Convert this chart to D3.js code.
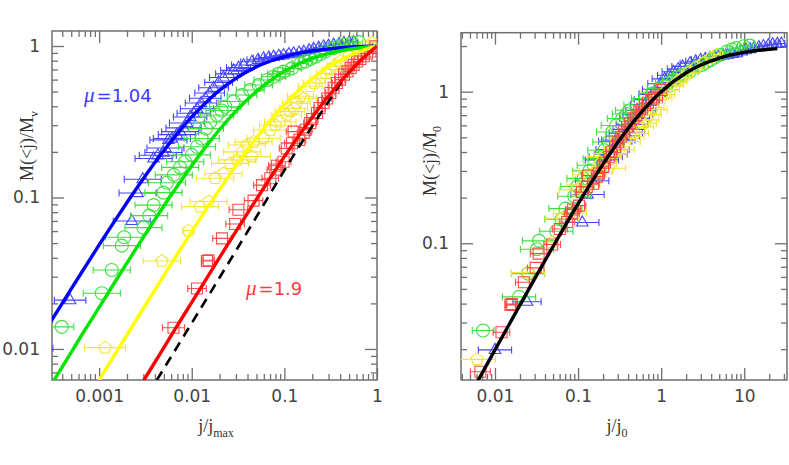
<!DOCTYPE html>
<html>
<head>
<meta charset="utf-8">
<script src="https://cdn.jsdelivr.net/npm/d3@7"></script>
<style>
  body { margin: 0; background: #fff; }
  text { font-family: "DejaVu Sans", sans-serif; }
</style>
</head>
<body>
<script>
const w = 789;
const h = 465;

// measured points, left panel units (j/jmax , M(<j)/Mv), err = half width of x bar in dex
const blueX = [0.0002, 0.000486, 0.00225, 0.0026, 0.00296, 0.00387, 0.0043, 0.00495, 0.0052, 0.0056, 0.0061, 0.0069, 0.0075, 0.00815, 0.0089, 0.0096, 0.0105, 0.0114, 0.0126, 0.014, 0.0156, 0.0172, 0.0195, 0.022, 0.025, 0.0283, 0.032, 0.0363, 0.0446, 0.052, 0.0596, 0.068, 0.0766, 0.087, 0.098, 0.112, 0.126, 0.144, 0.162, 0.185, 0.207, 0.235, 0.265, 0.30, 0.34, 0.39, 0.44, 0.50, 0.56];
const blueY = [0.0101, 0.021, 0.070, 0.107, 0.132, 0.181, 0.19, 0.198, 0.212, 0.24, 0.245, 0.26, 0.272, 0.288, 0.31, 0.34, 0.36, 0.385, 0.42, 0.452, 0.49, 0.53, 0.575, 0.62, 0.655, 0.69, 0.72, 0.749, 0.787, 0.81, 0.829, 0.84, 0.85, 0.862, 0.872, 0.885, 0.895, 0.905, 0.917, 0.94, 0.96, 0.975, 0.995, 1.005, 1.02, 1.035, 1.05, 1.055, 1.06];
const blueErr = [0.2, 0.17, 0.2, 0.2, 0.2, 0.2, 0.2, 0.2, 0.2, 0.2, 0.2, 0.2, 0.2, 0.19, 0.19, 0.18, 0.18, 0.18, 0.17, 0.17, 0.16, 0.16, 0.15, 0.15, 0.14, 0.14, 0.13, 0.13, 0.12, 0.12, 0.11, 0.11, 0.1, 0.1, 0.09, 0.09, 0.08, 0.08, 0.07, 0.07, 0.06, 0.06, 0.05, 0.05, 0.05, 0.04, 0.04, 0.04, 0.04];

const greenX = [0.000395, 0.00107, 0.00137, 0.00176, 0.00186, 0.00301, 0.00347, 0.00387, 0.00495, 0.0054, 0.0064, 0.0075, 0.0085, 0.01, 0.0114, 0.0128, 0.0142, 0.0158, 0.0187, 0.021, 0.023, 0.0283, 0.0349, 0.0428, 0.0528, 0.065, 0.0766, 0.087, 0.098, 0.121, 0.149, 0.169, 0.19, 0.216, 0.245, 0.277, 0.34, 0.39, 0.44, 0.54, 0.64];
const greenY = [0.014, 0.0233, 0.0332, 0.0481, 0.0546, 0.0632, 0.0759, 0.0891, 0.1076, 0.125, 0.141, 0.158, 0.172, 0.191, 0.216, 0.245, 0.285, 0.315, 0.35, 0.375, 0.397, 0.43, 0.475, 0.512, 0.553, 0.596, 0.627, 0.655, 0.677, 0.712, 0.768, 0.79, 0.82, 0.85, 0.885, 0.92, 0.97, 1.0, 1.02, 1.05, 1.06];
const greenErr = [0.13, 0.2, 0.2, 0.2, 0.2, 0.2, 0.2, 0.2, 0.2, 0.2, 0.2, 0.2, 0.2, 0.2, 0.2, 0.19, 0.19, 0.18, 0.18, 0.17, 0.17, 0.16, 0.16, 0.15, 0.15, 0.14, 0.13, 0.12, 0.11, 0.1, 0.09, 0.08, 0.08, 0.07, 0.06, 0.06, 0.05, 0.05, 0.04, 0.04, 0.04];

const yellowX = [0.00116, 0.00476, 0.00923, 0.0123, 0.0152, 0.0179, 0.022, 0.026, 0.031, 0.035, 0.0394, 0.0446, 0.0465, 0.0596, 0.0705, 0.08, 0.0903, 0.106, 0.115, 0.126, 0.135, 0.149, 0.162, 0.19, 0.21, 0.245, 0.28, 0.314, 0.35, 0.4, 0.495, 0.61, 0.75, 0.89];
const yellowY = [0.0102, 0.0381, 0.0604, 0.087, 0.094, 0.134, 0.144, 0.168, 0.177, 0.2, 0.222, 0.186, 0.233, 0.246, 0.279, 0.3, 0.316, 0.35, 0.37, 0.388, 0.42, 0.466, 0.452, 0.542, 0.57, 0.615, 0.66, 0.70, 0.74, 0.79, 0.855, 0.92, 0.995, 1.05];
const yellowErr = [0.22, 0.2, 0.06, 0.2, 0.2, 0.2, 0.2, 0.2, 0.2, 0.2, 0.2, 0.2, 0.2, 0.18, 0.18, 0.17, 0.17, 0.16, 0.16, 0.15, 0.15, 0.14, 0.14, 0.13, 0.12, 0.11, 0.1, 0.09, 0.08, 0.07, 0.06, 0.05, 0.05, 0.04];

const redX = [0.00635, 0.0114, 0.0146, 0.0152, 0.0212, 0.0294, 0.0319, 0.0465, 0.0574, 0.0705, 0.08, 0.083, 0.098, 0.106, 0.121, 0.126, 0.145, 0.162, 0.17, 0.19, 0.2, 0.225, 0.24, 0.265, 0.29, 0.314, 0.34, 0.37, 0.4, 0.44, 0.48, 0.52, 0.56, 0.61, 0.66, 0.72, 0.78, 0.85, 0.96];
const redY = [0.0138, 0.0251, 0.0381, 0.0385, 0.0537, 0.0668, 0.0829, 0.0953, 0.1206, 0.134, 0.153, 0.162, 0.172, 0.211, 0.228, 0.272, 0.24, 0.267, 0.28, 0.31, 0.33, 0.361, 0.39, 0.42, 0.45, 0.49, 0.53, 0.57, 0.6, 0.647, 0.68, 0.716, 0.75, 0.79, 0.82, 0.855, 0.89, 0.92, 0.995];
const redErr = [0.12, 0.1, 0.06, 0.06, 0.1, 0.1, 0.1, 0.1, 0.09, 0.09, 0.09, 0.09, 0.08, 0.08, 0.08, 0.08, 0.07, 0.07, 0.07, 0.07, 0.06, 0.06, 0.06, 0.06, 0.05, 0.05, 0.05, 0.05, 0.05, 0.04, 0.04, 0.04, 0.04, 0.04, 0.03, 0.03, 0.03, 0.03, 0.03];

// per-halo rescaling used in the right panel: j0 = jmax / jScale, M0 = Mv / mScale
const jScale = [50, 18.2, 5.26, 1.05];
const mScale = [1.96, 1.9, 1.68, 1.03];

// fit curves
const fitX = [0.0003, 0.0005, 0.0007, 0.001, 0.0015, 0.002, 0.003, 0.005, 0.007, 0.01, 0.015, 0.02, 0.03, 0.05, 0.07, 0.1, 0.15, 0.2, 0.3, 0.5, 0.7, 1];
const blueFit = [0.0151, 0.0249, 0.0345, 0.0486, 0.0712, 0.0927, 0.133, 0.204, 0.264, 0.34, 0.437, 0.51, 0.612, 0.729, 0.793, 0.85, 0.9, 0.927, 0.956, 0.981, 0.992, 1];
const greenFit = [0.00572, 0.0095, 0.0133, 0.0188, 0.028, 0.037, 0.0546, 0.0879, 0.119, 0.162, 0.226, 0.281, 0.372, 0.502, 0.591, 0.681, 0.772, 0.828, 0.892, 0.951, 0.978, 1];
const yellowFit = [0.00188, 0.00312, 0.00437, 0.00623, 0.00932, 0.0124, 0.0185, 0.0305, 0.0423, 0.0595, 0.0871, 0.113, 0.162, 0.248, 0.32, 0.41, 0.525, 0.61, 0.729, 0.862, 0.936, 1];
const redFit = [0.000616, 0.00103, 0.00144, 0.00205, 0.00308, 0.0041, 0.00614, 0.0102, 0.0143, 0.0203, 0.0303, 0.0402, 0.0597, 0.0975, 0.134, 0.186, 0.266, 0.339, 0.468, 0.672, 0.827, 1];
const dashX = [0.0042, 0.00664, 0.03, 0.1688, 0.3, 0.476, 0.63];
const dashY = [0.00624, 0.00985, 0.0445, 0.252, 0.43, 0.647, 0.77];

// universal curve, right panel (j/j0 , M(<j)/M0)
const uniX = [0.005, 0.01, 0.02, 0.05, 0.1, 0.2, 0.3, 0.5, 1, 2, 3, 5, 10, 25];
const uniY = [0.00995, 0.0198, 0.0392, 0.0952, 0.182, 0.333, 0.462, 0.667, 1, 1.333, 1.5, 1.667, 1.818, 1.923];

// ticks
const leftXMajor = [0.001, 0.01, 0.1, 1];
const leftYMajor = [0.01, 0.1, 1];
const rightXMajor = [0.01, 0.1, 1, 10];
const rightYMajor = [0.1, 1];

const series = [
  {x: blueX, y: blueY, err: blueErr, fit: blueFit, shape: "tri", pt: "#4646ff", line: "#0000ff"},
  {x: greenX, y: greenY, err: greenErr, fit: greenFit, shape: "circ", pt: "#3ee03e", line: "#00e400"},
  {x: yellowX, y: yellowY, err: yellowErr, fit: yellowFit, shape: "pent", pt: "#f2e636", line: "#ffff00"},
  {x: redX, y: redY, err: redErr, fit: redFit, shape: "sq", pt: "#ff4a4a", line: "#ff0000"}
];

function shapePath(kind) {
  if (kind == "circ") return d3.symbol(d3.symbolCircle, Math.PI * 6.5 * 6.5)();
  if (kind == "sq") return "M-5.5,-5.5H5.5V5.5H-5.5Z";
  if (kind == "tri") return "M0,-6.5L5.8,3.6H-5.8Z";
  var p = [];
  for (var k = 0; k < 5; k++) {
    var a = -Math.PI / 2 + k * 2 * Math.PI / 5;
    p.push([6.5 * Math.cos(a), 6.5 * Math.sin(a)]);
  }
  return "M" + p.join("L") + "Z";
}

function minors(dom) {
  var out = [];
  for (var e = Math.floor(Math.log10(dom[0])); e <= Math.ceil(Math.log10(dom[1])); e++) {
    for (var k = 2; k <= 9; k++) {
      var v = k * Math.pow(10, e);
      if (v > dom[0] && v < dom[1]) out.push(v);
    }
  }
  return out;
}

const svg = d3.select("body").append("svg")
  .attr("width", w)
  .attr("height", h);

svg.append("rect").attr("width", w).attr("height", h).attr("fill", "#fff");

function panel(id, xDom, xRange, yDom, yRange, xMajor, yMajor) {
  const x = d3.scaleLog().domain(xDom).range(xRange);
  const y = d3.scaleLog().domain(yDom).range(yRange);
  const g = svg.append("g");
  const pw = xRange[1] - xRange[0], ph = yRange[0] - yRange[1];

  svg.append("clipPath").attr("id", id)
    .append("rect").attr("x", xRange[0]).attr("y", yRange[1]).attr("width", pw).attr("height", ph);

  const axes = g.append("g").attr("class", "axes");
  const fmt = d => String(d);
  axes.append("g").attr("transform", "translate(0," + yRange[0] + ")")
    .call(d3.axisBottom(x).tickValues(xMajor).tickSize(-12).tickPadding(10).tickFormat(fmt));
  axes.append("g").attr("transform", "translate(0," + yRange[0] + ")")
    .call(d3.axisBottom(x).tickValues(minors(xDom)).tickSize(-6).tickFormat(""));
  axes.append("g").attr("transform", "translate(0," + yRange[1] + ")")
    .call(d3.axisTop(x).tickValues(xMajor).tickSize(-12).tickFormat(""));
  axes.append("g").attr("transform", "translate(0," + yRange[1] + ")")
    .call(d3.axisTop(x).tickValues(minors(xDom)).tickSize(-6).tickFormat(""));
  axes.append("g").attr("transform", "translate(" + xRange[0] + ",0)")
    .call(d3.axisLeft(y).tickValues(yMajor).tickSize(-12).tickPadding(12).tickFormat(fmt));
  axes.append("g").attr("transform", "translate(" + xRange[0] + ",0)")
    .call(d3.axisLeft(y).tickValues(minors(yDom)).tickSize(-6).tickFormat(""));
  axes.append("g").attr("transform", "translate(" + xRange[1] + ",0)")
    .call(d3.axisRight(y).tickValues(yMajor).tickSize(-12).tickFormat(""));
  axes.append("g").attr("transform", "translate(" + xRange[1] + ",0)")
    .call(d3.axisRight(y).tickValues(minors(yDom)).tickSize(-6).tickFormat(""));

  axes.selectAll(".domain").remove();
  axes.selectAll(".tick line").attr("stroke", "#707070").attr("stroke-width", 1.3);
  axes.selectAll(".tick text").attr("fill", "#444").style("font-size", "17px");

  g.append("rect")
    .attr("x", xRange[0]).attr("y", yRange[1]).attr("width", pw).attr("height", ph)
    .attr("fill", "none").attr("stroke", "#707070").attr("stroke-width", 1.5);

  const plot = g.append("g").attr("clip-path", "url(#" + id + ")");
  return {x: x, y: y, plot: plot};
}

function drawPoints(p, s, jf, mf) {
  const gg = p.plot.append("g")
    .attr("stroke", s.pt).attr("fill", "none").attr("stroke-width", 1.1);
  s.x.forEach(function(xv, i) {
    const cx = p.x(xv * jf), cy = p.y(s.y[i] * mf);
    const e = Math.pow(10, s.err[i] ?? 0.1);
    const x1 = p.x(xv * jf / e), x2 = p.x(xv * jf * e);
    gg.append("path")
      .attr("d", "M" + x1 + "," + cy + "H" + x2 + "M" + x1 + "," + (cy - 3.5) + "V" + (cy + 3.5) + "M" + x2 + "," + (cy - 3.5) + "V" + (cy + 3.5));
    gg.append("path")
      .attr("transform", "translate(" + cx + "," + cy + ")")
      .attr("d", shapePath(s.shape));
  });
}

// left panel
const L = panel("clipL", [0.00031, 1], [52, 377], [0.00624, 1.256], [380, 31], leftXMajor, leftYMajor);
series.forEach(s => drawPoints(L, s, 1, 1));

const lineL = d3.line().x(d => L.x(d[0])).y(d => L.y(d[1])).curve(d3.curveMonotoneX);
L.plot.append("path")
  .datum(dashX.map((v, i) => [v, dashY[i]]))
  .attr("d", lineL).attr("fill", "none").attr("stroke", "#000")
  .attr("stroke-width", 2.6).attr("stroke-dasharray", "10,7");
series.forEach(function(s) {
  L.plot.append("path")
    .datum(fitX.map((v, i) => [v, s.fit[i]]))
    .attr("d", lineL).attr("fill", "none").attr("stroke", s.line).attr("stroke-width", 3.4);
});

// right panel
const R = panel("clipR", [0.0039, 32.7], [461, 787], [0.01253, 2.45], [380, 32.7], rightXMajor, rightYMajor);
series.forEach((s, i) => drawPoints(R, s, jScale[i], mScale[i]));
const lineR = d3.line().x(d => R.x(d[0])).y(d => R.y(d[1])).curve(d3.curveMonotoneX);
R.plot.append("path")
  .datum(uniX.map((v, i) => [v, uniY[i]]))
  .attr("d", lineR).attr("fill", "none").attr("stroke", "#000").attr("stroke-width", 3.4);

// labels
const serif = '"Liberation Serif", "DejaVu Serif", serif';
function axisTitle(xp, yp, rot, main, sub) {
  const t = svg.append("text")
    .attr("transform", "translate(" + xp + "," + yp + ")" + (rot ? " rotate(-90)" : ""))
    .attr("text-anchor", "middle")
    .attr("fill", "#333")
    .style("font-family", serif)
    .style("font-size", "18px");
  t.append("tspan").text(main);
  t.append("tspan").attr("dy", 5).style("font-size", "12px").text(sub);
}
axisTitle(216, 432, false, "j/j", "max");
axisTitle(617, 432, false, "j/j", "0");
axisTitle(33, 146, true, "M(<j)/M", "v");
axisTitle(436, 161, true, "M(<j)/M", "0");

function muLabel(xp, yp, val, col) {
  const t = svg.append("text").attr("x", xp).attr("y", yp).attr("fill", col)
    .style("font-size", "18px");
  t.append("tspan").style("font-family", serif).style("font-style", "italic").style("font-size", "21px").text("\u03bc");
  t.append("tspan").attr("dx", 2).text("=" + val);
}
muLabel(84, 102, "1.04", "#3a3aff");
muLabel(246, 295, "1.9", "#ff3a3a");
</script>
</body>
</html>
